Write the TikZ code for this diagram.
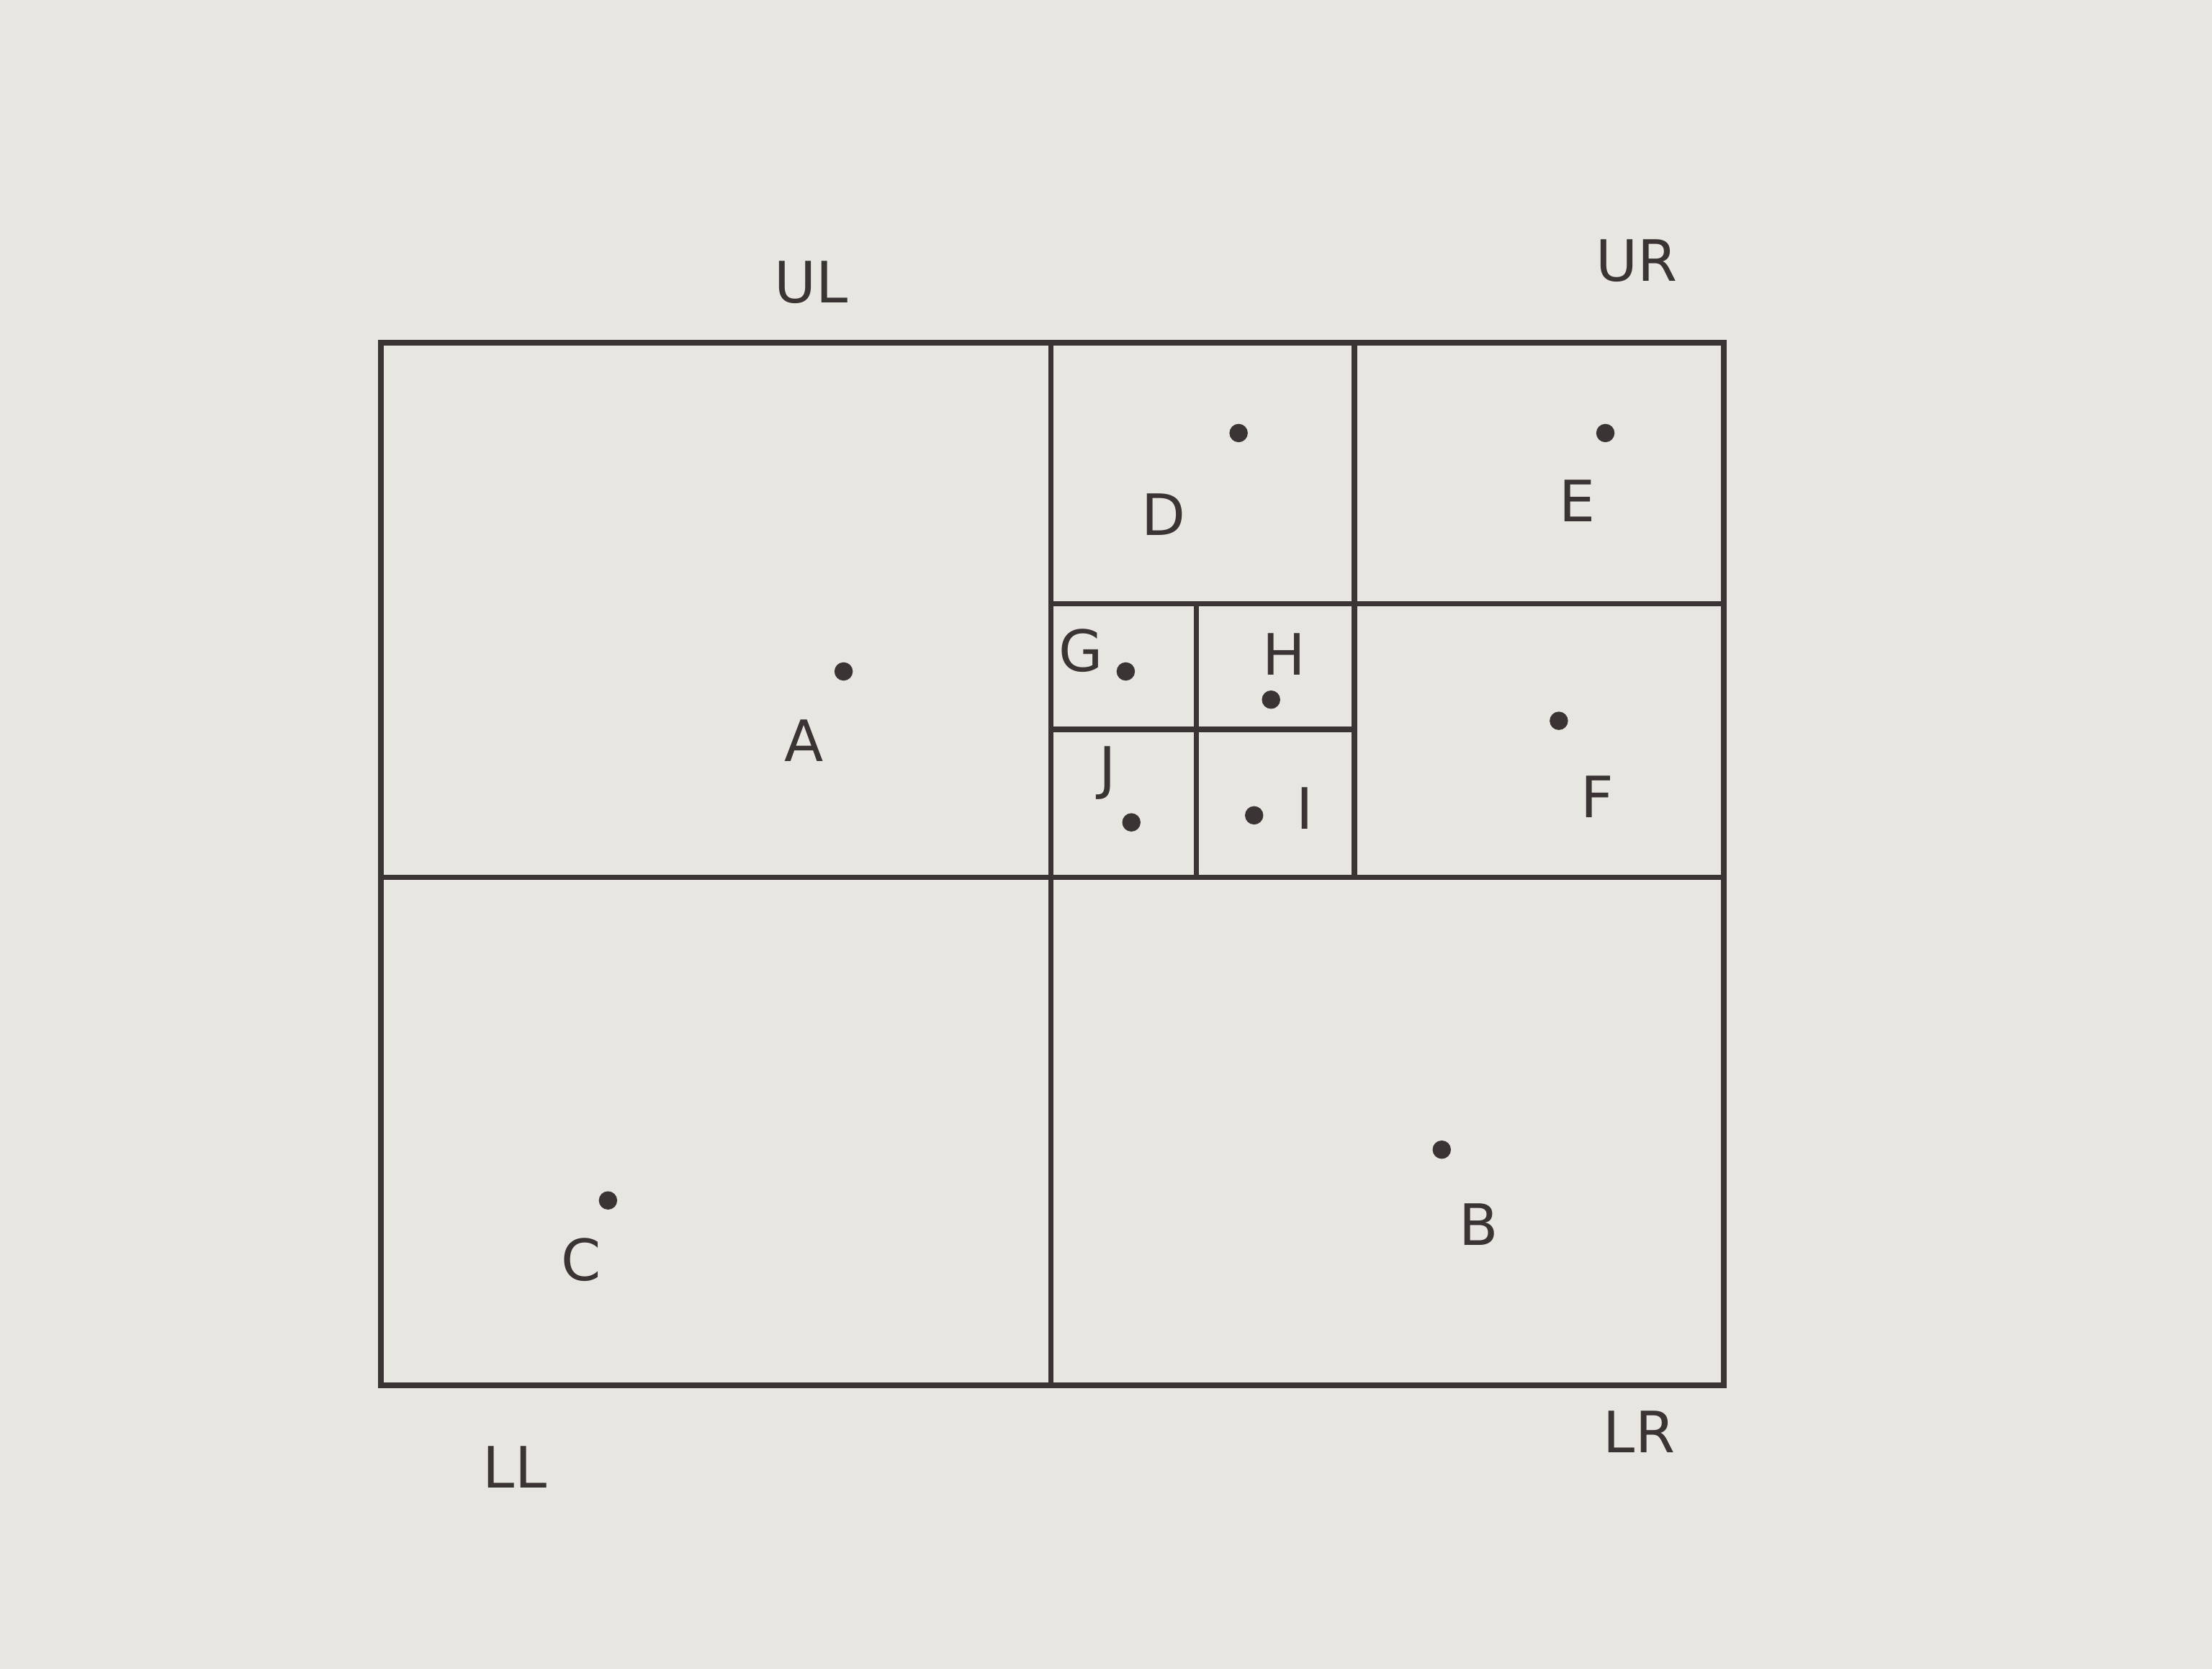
\documentclass[tikz,border=0pt]{standalone}
\usepackage{fontspec}
\setsansfont{DejaVu Sans}
\definecolor{paper}{HTML}{E8E6E0}
\definecolor{ink}{HTML}{3A3434}
\begin{document}
\begin{tikzpicture}[x=0.01cm,y=-0.01cm,
  grid/.style={draw=ink,line width=1.1pt},
  pt/.style={circle,fill=ink,inner sep=0pt,minimum size=0.13cm},
  lab/.style={text=ink,font=\sffamily\fontsize{11.5}{14}\selectfont,inner sep=1pt},
  qlab/.style={text=ink,font=\sffamily\fontsize{11.5}{14}\selectfont,inner sep=1pt}]
\fill[paper] (0,0) rectangle (1568,1183);
\useasboundingbox (0,0) rectangle (1568,1183);
% outer box and quadrants
\draw[grid] (270,243) rectangle (1222,982);
\draw[grid] (745,243) -- (745,982);
\draw[grid] (270,622) -- (1222,622);
% upper right subdivision
\draw[grid] (960,243) -- (960,622);
\draw[grid] (745,428) -- (1222,428);
% further subdivision
\draw[grid] (848,428) -- (848,622);
\draw[grid] (745,517) -- (960,517);
% points
\node[pt] (pA) at (598,476) {};
\node[lab] (lA) at (570,525) {A};
\node[pt] (pD) at (878,307) {};
\node[lab] (lD) at (825,365) {D};
\node[pt] (pE) at (1138,307) {};
\node[lab] (lE) at (1118,355) {E};
\node[pt] (pF) at (1105,511) {};
\node[lab] (lF) at (1132,565) {F};
\node[pt] (pG) at (798,476) {};
\node[lab] (lG) at (766,461) {G};
\node[pt] (pH) at (901,496) {};
\node[lab] (lH) at (910,464) {H};
\node[pt] (pJ) at (802,583) {};
\node[lab] (lJ) at (785,548) {J};
\node[pt] (pI) at (889,578) {};
\node[lab] (lI) at (925,573) {I};
\node[pt] (pC) at (431,851) {};
\node[lab] (lC) at (412,893) {C};
\node[pt] (pB) at (1022,815) {};
\node[lab] (lB) at (1048,868) {B};
% quadrant labels
\node[qlab] (UL) at (575,200) {UL};
\node[qlab] (UR) at (1160,185) {UR};
\node[qlab] (LL) at (365,1040) {LL};
\node[qlab] (LR) at (1162,1015) {LR};
\end{tikzpicture}
\end{document}
